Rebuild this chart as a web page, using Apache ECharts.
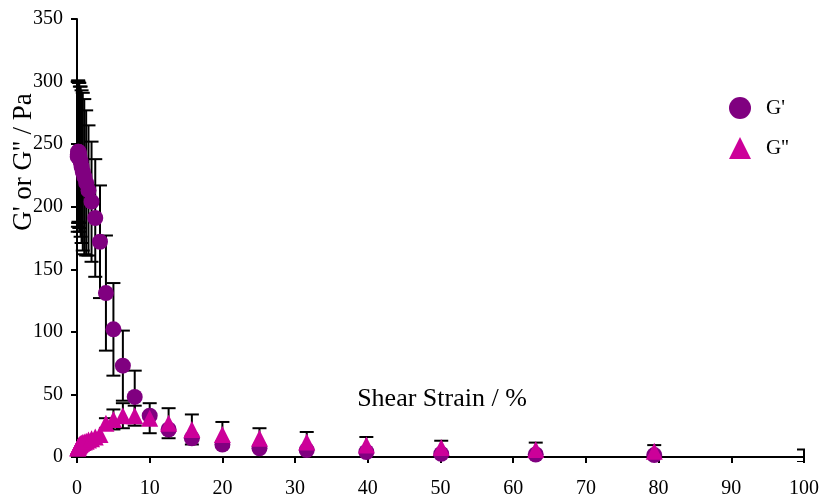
<!DOCTYPE html>
<html>
<head>
<meta charset="utf-8">
<script src="https://cdn.jsdelivr.net/npm/echarts@6/dist/echarts.min.js"></script>
<style>
  html, body { margin: 0; padding: 0; background: #fff; }
  #chart { width: 827px; height: 501px; }
</style>
</head>
<body>
<div id="chart"></div>
<script>
// Amplitude sweep: storage (G') and loss (G'') moduli vs shear strain
const strain = [0.1, 0.126, 0.158, 0.2, 0.251, 0.316, 0.398, 0.501, 0.631, 0.794,
                1.0, 1.26, 1.58, 2.0, 2.51, 3.16, 3.98, 5.01, 6.31, 7.94,
                10.0, 12.6, 15.8, 20.0, 25.1, 31.6, 39.8, 50.1, 63.1, 79.4];
const gPrime = [240, 242, 244, 244, 243, 241, 238, 236, 232, 228,
                224, 219, 213, 204, 191, 172, 131, 102, 73, 48,
                33, 22, 15, 10, 7, 5.5, 4, 2.5, 2, 1.5];
const gPrimeErr = [60, 58, 57, 56, 56, 58, 58, 60, 61, 63,
                   62, 58, 52, 48, 47, 45, 46, 37, 28, 21,
                   0, 0, 0, 0, 0, 0, 0, 0, 0, 0];
const gDouble = [7, 7.5, 8, 8.5, 9, 9.5, 10, 10.5, 11, 11.5,
                 12, 12.5, 13.5, 14.5, 16, 18, 27, 30, 33, 33,
                 31, 27, 22, 18, 15, 12, 9.5, 7.5, 6, 4.5];
const gDoubleErr = [0, 0, 0, 0, 0, 0, 0, 0, 0, 0,
                    0, 0, 0, 0, 0, 0, 4, 8, 10, 8,
                    12, 12, 12, 10, 8, 8, 6.5, 5.5, 5.5, 5];
// last measured strain: only its error bar lies inside the frame
const tailStrain = [100];
const tailValue = [1];
const tailErr = [5];

const xTicks = { min: 0, max: 100, interval: 10 };
const yTicks = { min: 0, max: 350, interval: 50 };

const serif = '"Liberation Serif", "Times New Roman", serif';

function bars(xs, vals, errs) {
  const out = [];
  for (let i = 0; i < xs.length; i++) {
    if (errs[i] > 0) out.push([xs[i], vals[i] - errs[i], vals[i] + errs[i]]);
  }
  return out;
}

function makeBarRenderer(extraBelow) {
  return function (params, api) {
    const x = api.value(0);
    const top = api.coord([x, api.value(2)]);
    const bot = api.coord([x, api.value(1)]);
    const cs = params.coordSys;
    const hw = 7;
    const st = { stroke: '#000', lineWidth: 2 };
    return {
      type: 'group',
      clipPath: { type: 'rect', shape: { x: cs.x - 10, y: cs.y - 10, width: cs.width + 11, height: cs.height + 10 + extraBelow } },
      children: [
        { type: 'line', shape: { x1: top[0], y1: top[1], x2: bot[0], y2: bot[1] }, style: st },
        { type: 'line', shape: { x1: top[0] - hw, y1: top[1], x2: top[0] + hw, y2: top[1] }, style: st },
        { type: 'line', shape: { x1: bot[0] - hw, y1: bot[1], x2: bot[0] + hw, y2: bot[1] }, style: st }
      ]
    };
  };
}

const pair = (xs, ys) => xs.map((x, i) => [x, ys[i]]);

const chart = echarts.init(document.getElementById('chart'), null, { renderer: 'canvas' });
chart.setOption({
  animation: false,
  backgroundColor: '#fff',
  grid: { left: 77, right: 23, top: 19, bottom: 44 },
  xAxis: {
    type: 'value', min: xTicks.min, max: xTicks.max, interval: xTicks.interval,
    axisLine: { onZero: false, lineStyle: { color: '#000', width: 2 } },
    axisTick: { inside: false, length: 6, lineStyle: { color: '#000', width: 2 } },
    axisLabel: { color: '#000', fontFamily: serif, fontSize: 20, margin: 22 },
    splitLine: { show: false }
  },
  yAxis: {
    type: 'value', min: yTicks.min, max: yTicks.max, interval: yTicks.interval,
    axisLine: { show: true, lineStyle: { color: '#000', width: 2 } },
    axisTick: { show: true, inside: false, length: 6, lineStyle: { color: '#000', width: 2 } },
    axisLabel: { color: '#000', fontFamily: serif, fontSize: 20, margin: 14 },
    splitLine: { show: false }
  },
  legend: {
    orient: 'vertical', left: 724, top: 92, itemGap: 18,
    itemWidth: 22, itemHeight: 22,
    textStyle: { fontFamily: serif, fontSize: 21, color: '#000', padding: [0, 0, 0, 10] },
    data: [
      { name: "G'", icon: 'circle' },
      { name: "G''", icon: 'triangle' }
    ]
  },
  graphic: [
    {
      type: 'text', x: 24, y: 162, rotation: Math.PI / 2,
      style: { text: "G' or G'' / Pa", fontFamily: serif, fontSize: 27, fill: '#000',
               textAlign: 'center', textVerticalAlign: 'middle' }
    },
    {
      type: 'text', x: 442, y: 399,
      style: { text: 'Shear Strain / %', fontFamily: serif, fontSize: 26, fill: '#000',
               textAlign: 'center', textVerticalAlign: 'middle' }
    }
  ],
  series: [
    { type: 'custom', name: 'errPrime', renderItem: makeBarRenderer(0), clip: false, data: bars(strain, gPrime, gPrimeErr), z: 1 },
    { type: 'custom', name: 'errDouble', renderItem: makeBarRenderer(0), clip: false, data: bars(strain, gDouble, gDoubleErr), z: 1 },
    { type: 'custom', name: 'errTail', renderItem: makeBarRenderer(5), clip: false, data: bars(tailStrain, tailValue, tailErr), z: 1 },
    {
      type: 'scatter', name: "G'", symbol: 'circle', symbolSize: 16,
      itemStyle: { color: '#800080', opacity: 1 }, data: pair(strain, gPrime), z: 2
    },
    {
      type: 'scatter', name: "G''", symbol: 'triangle', symbolSize: 17,
      itemStyle: { color: '#CC0099', opacity: 1 }, data: pair(strain, gDouble), z: 3
    }
  ]
});
</script>
</body>
</html>
